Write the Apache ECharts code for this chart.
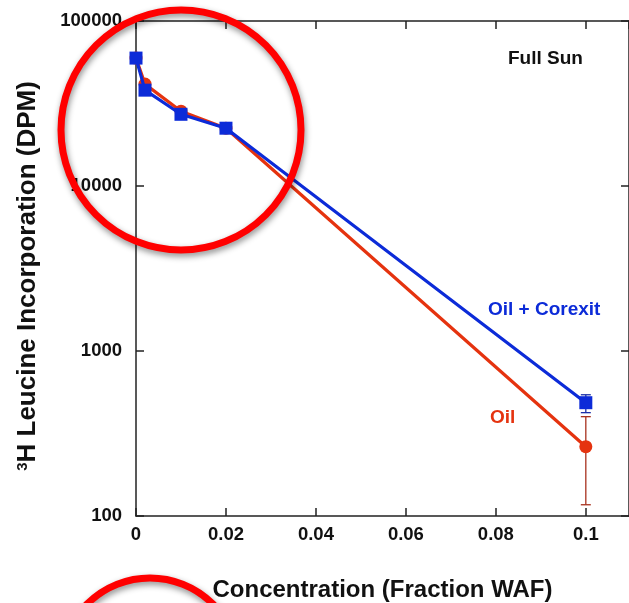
<!DOCTYPE html>
<html><head><meta charset="utf-8">
<script src="https://cdn.jsdelivr.net/npm/echarts@6/dist/echarts.min.js"></script>
<style>html,body{margin:0;padding:0;background:#fff}#c{width:629px;height:603px}</style>
</head><body><div id="c"></div>
<script>
const concentrations = [0, 0.002, 0.01, 0.02, 0.1];
const oilCorexit = [59600, 38100, 27200, 22400, 486];
const oil = [59600, 41450, 28400, 22400, 263];
const oilCorexitErr = [[0.1, 423, 543]];
const oilErr = [[0.1, 117, 400]];
const xTicks = [0, 0.02, 0.04, 0.06, 0.08, 0.1];
const yTicks = [100, 1000, 10000, 100000];

const FONT = 'Liberation Sans, Arial, sans-serif';
const BLUE = '#0c2bd8';
const RED = '#e5330f';
const AX = '#222';

function pairs(xs, ys){ return xs.map((x,i)=>[x, ys[i]]); }

function errItem(color){
  return function(params, api){
    const p0 = api.coord([api.value(0), api.value(1)]);
    const p1 = api.coord([api.value(0), api.value(2)]);
    const w = 5;
    const st = {stroke: color, lineWidth: 1.3};
    return {type:'group', children:[
      {type:'line', shape:{x1:p0[0],y1:p0[1],x2:p1[0],y2:p1[1]}, style:st},
      {type:'line', shape:{x1:p0[0]-w,y1:p0[1],x2:p0[0]+w,y2:p0[1]}, style:st},
      {type:'line', shape:{x1:p1[0]-w,y1:p1[1],x2:p1[0]+w,y2:p1[1]}, style:st}
    ]};
  };
}

const chart = echarts.init(document.getElementById('c'), null, {renderer:'canvas'});
const labelStyle = {color:'#111', fontFamily:FONT, fontWeight:'bold', fontSize:18.5};
const tickStyle = {show:true, inside:true, length:8, lineStyle:{color:AX, width:1.5}};
const lineStyleAx = {show:true, onZero:false, lineStyle:{color:AX, width:1.5}};
chart.setOption({
  animation:false,
  grid:{left:136, top:21, width:493, height:495, containLabel:false, outerBoundsMode:'none'},
  xAxis:[{
    type:'value', min:0, max:0.1096, interval:0.02,
    axisLine:lineStyleAx, axisTick:tickStyle,
    splitLine:{show:false},
    axisLabel:Object.assign({margin:9, formatter:v=> xTicks.some(t=>Math.abs(t-v)<1e-9) ? String(+v.toFixed(2)) : '', showMaxLabel:false}, labelStyle),
    name:'Concentration (Fraction WAF)', nameLocation:'middle', nameGap:62,
    nameTextStyle:{color:'#111', fontFamily:FONT, fontWeight:'bold', fontSize:24}
  },{
    type:'value', position:'top', min:0, max:0.1096, interval:0.02,
    axisLine:lineStyleAx, axisTick:tickStyle,
    axisLabel:{show:false}, splitLine:{show:false}
  }],
  yAxis:[{
    type:'log', logBase:10, min:100, max:100000,
    axisLine:lineStyleAx, axisTick:tickStyle,
    minorTick:{show:false}, splitLine:{show:false},
    axisLabel:Object.assign({margin:14, formatter:v=>String(Math.round(v))}, labelStyle)
  },{
    type:'log', logBase:10, min:100, max:100000, position:'right',
    axisLine:lineStyleAx, axisTick:tickStyle,
    axisLabel:{show:false}, splitLine:{show:false}
  }],
  series:[
    {type:'custom', renderItem:errItem('#a8321e'), data:oilErr, z:1, xAxisIndex:0, yAxisIndex:0},
    {type:'custom', renderItem:errItem('#1a2fa8'), data:oilCorexitErr, z:1, xAxisIndex:0, yAxisIndex:0},
    {name:'Oil', type:'line', data:pairs(concentrations, oil), z:2,
      lineStyle:{color:RED, width:3.2}, itemStyle:{color:RED}, symbol:'circle', symbolSize:13},
    {name:'Oil + Corexit', type:'line', data:pairs(concentrations, oilCorexit), z:3,
      lineStyle:{color:BLUE, width:3.2}, itemStyle:{color:BLUE}, symbol:'rect', symbolSize:13}
  ],
  graphic:[
    {type:'text', x:28, y:276, rotation:Math.PI/2, style:{
      text:'{sup|3}{n|H Leucine Incorporation (DPM)}', align:'center', verticalAlign:'middle',
      rich:{
        sup:{fill:'#111', fontFamily:FONT, fontWeight:'bold', fontSize:15, verticalAlign:'top', padding:[0,0,10,0]},
        n:{fill:'#111', fontFamily:FONT, fontWeight:'bold', fontSize:26}
      }}},
    {type:'text', left:508, top:49, style:{text:'Full Sun', fill:'#111', font:'bold 19px '+FONT}},
    {type:'text', left:488, top:300, style:{text:'Oil + Corexit', fill:BLUE, font:'bold 19px '+FONT}},
    {type:'text', left:490, top:408, style:{text:'Oil', fill:RED, font:'bold 19px '+FONT}},
    {type:'circle', z:100, shape:{cx:181, cy:130, r:120}, style:{fill:'none', stroke:'#ff0000', lineWidth:7, shadowBlur:6, shadowColor:'rgba(0,0,0,0.45)', shadowOffsetX:1, shadowOffsetY:3}},
    {type:'circle', z:100, shape:{cx:150, cy:667, r:89}, style:{fill:'none', stroke:'#ff0000', lineWidth:7, shadowBlur:6, shadowColor:'rgba(0,0,0,0.45)', shadowOffsetX:1, shadowOffsetY:3}}
  ]
});
</script></body></html>
